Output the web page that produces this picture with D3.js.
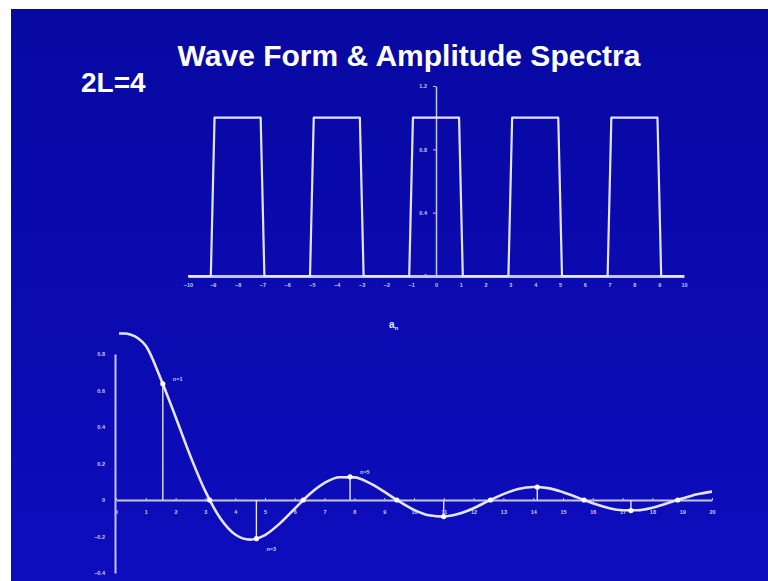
<!DOCTYPE html>
<html>
<head>
<meta charset="utf-8">
<script src="https://cdn.jsdelivr.net/npm/d3@7"></script>
<style>
  html, body { margin: 0; padding: 0; background: #fff; }
  svg { display: block; }
</style>
</head>
<body>
<svg id="chart" width="768" height="581"></svg>
<script>
// Wave form (2L = 4) and its amplitude spectrum a_n.

// top panel: square wave, breakpoints of the drawn line
const waveX = [-10, -9.08, -8.93, -7.07, -6.92, -5.08, -4.93, -3.07, -2.92, -1.08, -0.93,
  0.93, 1.08, 2.92, 3.07, 4.93, 5.08, 6.92, 7.07, 8.93, 9.08, 10];
const waveY = [0, 0, 1, 1, 0, 0, 1, 1, 0, 0, 1, 1, 0, 0, 1, 1, 0, 0, 1, 1, 0, 0];
const waveXTicks = [-10, -9, -8, -7, -6, -5, -4, -3, -2, -1, 0, 1, 2, 3, 4, 5, 6, 7, 8, 9, 10];
const waveYTicks = [0, 0.4, 0.8, 1.2];

// bottom panel: envelope curve as drawn (flattened at the top of the plot)
const envW = [0.1, 0.3, 0.5, 0.75, 1, 1.5, 2, 2.5, 3, 3.5, 4, 4.5, 5, 5.5, 6, 6.5, 7, 7.5, 8, 8.5, 9, 9.5,
  10, 10.5, 11, 11.5, 12, 12.5, 13, 13.5, 14, 14.5, 15, 15.5, 16, 16.5, 17, 17.5, 18, 18.5, 19, 19.5, 20];
const envA = [0.912, 0.912, 0.905, 0.885, 0.845, 0.665, 0.455, 0.239, 0.047, -0.1, -0.189, -0.217, -0.192, -0.128,
  -0.047, 0.033, 0.094, 0.125, 0.124, 0.094, 0.046, -0.008, -0.054, -0.084, -0.091, -0.076, -0.045,
  -0.005, 0.032, 0.06, 0.071, 0.065, 0.043, 0.013, -0.018, -0.043, -0.056, -0.056, -0.042, -0.018,
  0.008, 0.031, 0.046];

// spectral lines n = 1..12
const specN = [1, 2, 3, 4, 5, 6, 7, 8, 9, 10, 11, 12];
const specW = [1.571, 3.142, 4.712, 6.283, 7.854, 9.425, 10.996, 12.566, 14.137, 15.708, 17.279, 18.85];
const specA = [0.637, 0, -0.212, 0, 0.127, 0, -0.091, 0, 0.071, 0, -0.058, 0];
const specLabelled = [1, 3, 5];

const specXTicks = [0, 1, 2, 3, 4, 5, 6, 7, 8, 9, 10, 11, 12, 13, 14, 15, 16, 17, 18, 19, 20];
const specYTicks = [-0.4, -0.2, 0, 0.2, 0.4, 0.6, 0.8];

const LINE = "#e4e4ff", AXIS = "#c4c4f6", LABEL = "#c8c8f4";
const FONT = "'Liberation Sans', Arial, sans-serif";

const svg = d3.select("#chart");

const bg = svg.append("defs").append("linearGradient").attr("id", "bg")
  .attr("x1", 0).attr("y1", 0).attr("x2", 0).attr("y2", 1);
bg.append("stop").attr("offset", 0).attr("stop-color", "#0808a2");
bg.append("stop").attr("offset", 1).attr("stop-color", "#0d0dbd");

svg.append("rect").attr("width", 768).attr("height", 581).attr("fill", "#fff");
svg.append("rect").attr("x", 11).attr("y", 9).attr("width", 757).attr("height", 572).attr("fill", "url(#bg)");

// titles
svg.append("text").attr("x", 409).attr("y", 66).attr("text-anchor", "middle")
  .style("font", `bold 30px ${FONT}`).style("fill", "#fff")
  .text("Wave Form & Amplitude Spectra");
svg.append("text").attr("x", 81).attr("y", 92)
  .style("font", `bold 28px ${FONT}`).style("fill", "#fff")
  .text("2L=4");

// ---- top panel
const xw = d3.scaleLinear().domain([-10, 10]).range([188, 684]);
const yw = d3.scaleLinear().domain([0, 1.2]).range([276, 86]);

const styleAxis = (s, w) => {
  s.select(".domain").attr("stroke", AXIS).attr("stroke-width", w);
  s.selectAll(".tick line").attr("stroke", AXIS);
  s.selectAll("text").style("font", `bold 5.5px ${FONT}`).style("fill", LABEL);
};

svg.append("g").attr("transform", `translate(0,${yw(0)})`)
  .call(d3.axisBottom(xw).tickValues(waveXTicks).tickSize(0).tickPadding(7).tickFormat(d3.format("d")))
  .call((s) => styleAxis(s, 3));

svg.append("g").attr("transform", `translate(${xw(0)},0)`)
  .call(d3.axisLeft(yw).tickValues(waveYTicks).tickSize(3).tickSizeOuter(0).tickPadding(6)
    .tickFormat((d) => d === 0 ? "0" : d3.format(".1f")(d)))
  .call((s) => styleAxis(s, 1.5));

svg.append("path")
  .attr("d", d3.line().x((d, i) => xw(waveX[i])).y((d, i) => yw(waveY[i]))(waveX))
  .attr("fill", "none").attr("stroke", LINE).attr("stroke-width", 2.2)
  .attr("stroke-linejoin", "round");

// a_n caption
const cap = svg.append("text").attr("x", 389).attr("y", 328)
  .style("font", `bold 10px ${FONT}`).style("fill", LINE);
cap.append("tspan").text("a");
cap.append("tspan").attr("dy", 2).style("font-size", "6px").text("n");

// ---- bottom panel
const xs = d3.scaleLinear().domain([0, 20]).range([116, 712]);
const ys = d3.scaleLinear().domain([-0.4, 0.8]).range([573, 354]);

svg.append("g").attr("transform", `translate(0,${ys(0)})`)
  .call(d3.axisBottom(xs).tickValues(specXTicks).tickSize(-2).tickSizeOuter(0).tickPadding(10)
    .tickFormat(d3.format("d")))
  .call((s) => styleAxis(s, 2.2));

svg.append("g").attr("transform", `translate(${xs(0) - 1},0)`)
  .call(d3.axisLeft(ys).tickValues(specYTicks).tickSize(0).tickSizeOuter(0).tickPadding(10)
    .tickFormat((d) => d === 0 ? "0" : d3.format(".1f")(d)))
  .call((s) => styleAxis(s, 2));

const spec = specN.map((n, i) => ({ n, w: specW[i], a: specA[i] }));

svg.append("g").selectAll("line.stem").data(spec.filter((d) => d.a !== 0)).enter()
  .append("line").attr("class", "stem")
  .attr("x1", (d) => xs(d.w)).attr("x2", (d) => xs(d.w))
  .attr("y1", ys(0)).attr("y2", (d) => ys(d.a))
  .attr("stroke", LINE).attr("stroke-width", 1.4);

svg.append("path")
  .attr("d", d3.line().curve(d3.curveMonotoneX)
    .x((d, i) => xs(envW[i])).y((d, i) => ys(envA[i]))(envW))
  .attr("fill", "none").attr("stroke", LINE).attr("stroke-width", 2.6);

svg.append("g").selectAll("circle").data(spec).enter().append("circle")
  .attr("cx", (d) => xs(d.w)).attr("cy", (d) => ys(d.a))
  .attr("r", 2.6).attr("fill", "#fff");

svg.append("g").selectAll("text").data(spec.filter((d) => specLabelled.includes(d.n))).enter()
  .append("text")
  .attr("x", (d) => xs(d.w) + 10)
  .attr("y", (d) => ys(d.a) + (d.a < 0 ? 12 : -3))
  .style("font", `bold 5.5px ${FONT}`).style("fill", LABEL)
  .text((d) => `n=${d.n}`);
</script>
</body>
</html>
